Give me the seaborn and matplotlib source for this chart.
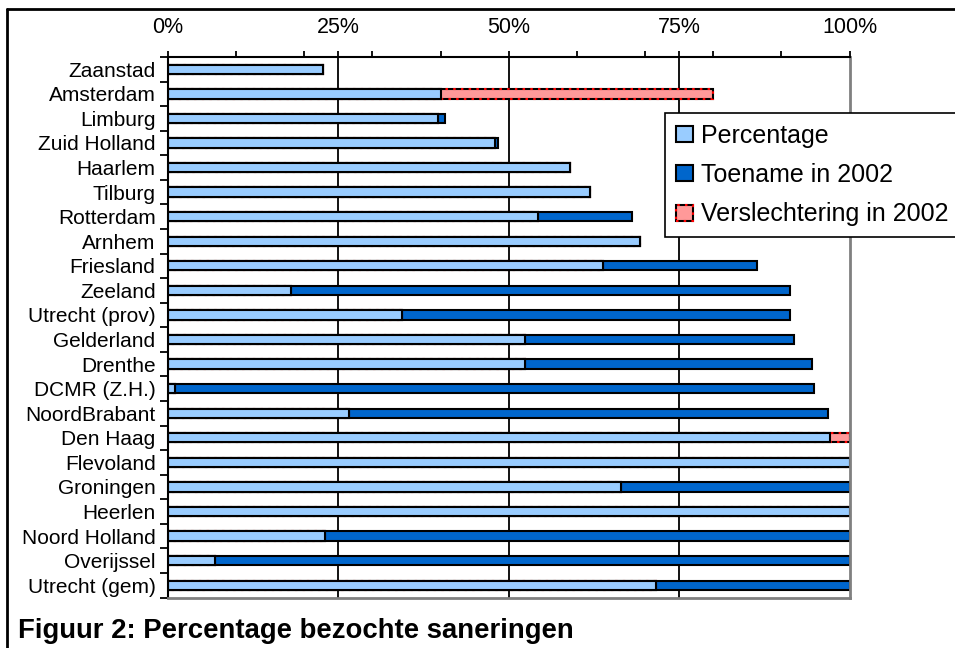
import matplotlib
matplotlib.use("Agg")
import matplotlib.pyplot as plt
import seaborn as sns
import numpy as np
import pandas as pd
from matplotlib.patches import Patch, Rectangle
from matplotlib.lines import Line2D
from matplotlib.legend_handler import HandlerTuple

categories = ["Zaanstad", "Amsterdam", "Limburg", "Zuid Holland", "Haarlem", "Tilburg",
              "Rotterdam", "Arnhem", "Friesland", "Zeeland", "Utrecht (prov)", "Gelderland",
              "Drenthe", "DCMR (Z.H.)", "NoordBrabant", "Den Haag", "Flevoland", "Groningen",
              "Heerlen", "Noord Holland", "Overijssel", "Utrecht (gem)"]
percentage = [22.8, 40.1, 39.6, 48.0, 59.0, 61.9, 54.3, 69.2, 63.9, 18.1, 34.3, 52.4,
              52.4, 1.0, 26.6, 97.1, 100.0, 66.5, 100.0, 23.1, 6.9, 71.6]
toename = [0.0, 0.0, 1.1, 0.4, 0.0, 0.0, 13.8, 0.0, 22.6, 73.2, 57.0, 39.4,
           42.1, 93.8, 70.3, 0.0, 0.0, 33.5, 0.0, 76.9, 93.1, 28.4]
verslechtering = [0.0, 39.9, 0.0, 0.0, 0.0, 0.0, 0.0, 0.0, 0.0, 0.0, 0.0, 0.0,
                  0.0, 0.0, 0.0, 2.9, 0.0, 0.0, 0.0, 0.0, 0.0, 0.0]
series_labels = ["Percentage", "Toename in 2002", "Verslechtering in 2002"]
major_ticks = [0, 25, 50, 75, 100]
major_labels = ["0%", "25%", "50%", "75%", "100%"]
minor_ticks = [10, 20, 30, 40, 60, 70, 80, 90]
grid_values = [25, 50, 75]
title = "Figuur 2: Percentage bezochte saneringen"

LIGHT = "#99CCFF"
DARK = "#0066CC"
PINK = "#FF9999"

sns.set_style("white")
plt.rcParams["font.family"] = ["Liberation Sans", "DejaVu Sans"]
plt.rcParams["text.color"] = "black"
plt.rcParams["xtick.color"] = "black"
plt.rcParams["ytick.color"] = "black"
plt.rcParams["axes.labelcolor"] = "black"

df = pd.DataFrame({"cat": categories, "pct": percentage, "toe": toename, "ver": verslechtering})
df["tot_toe"] = df["pct"] + df["toe"]
df["tot_ver"] = df["pct"] + df["ver"]

W, H = 955, 648
fig = plt.figure(figsize=(W / 100, H / 100), dpi=100)
fig.patch.set_facecolor("white")
ax = fig.add_axes([168 / W, 1 - 597.5 / H, 681.5 / W, 540.5 / H])

common = dict(orient="h", width=0.38, saturation=1, edgecolor="black",
              linewidth=1.5, ax=ax, order=categories, errorbar=None)
sns.barplot(data=df, x="tot_toe", y="cat", color=DARK, **common)
n0 = len(ax.containers)
sns.barplot(data=df, x="tot_ver", y="cat", color=PINK, **common)
for p in ax.containers[n0]:
    ax.add_patch(Rectangle(p.get_xy(), p.get_width(), p.get_height(), fill=False,
                           edgecolor="red", linestyle=(0, (1.2, 2.5)), linewidth=1.5,
                           zorder=p.get_zorder()))
sns.barplot(data=df, x="pct", y="cat", color=LIGHT, **common)

for v in grid_values:
    ax.axvline(v, color="black", linewidth=1.3, zorder=0.5)

ax.set_xlim(0, 100)
ax.set_ylim(len(categories) - 0.5, -0.5)
ax.set_xlabel("")
ax.set_ylabel("")

ax.xaxis.tick_top()
ax.set_xticks(major_ticks)
ax.set_xticklabels(major_labels)
ax.set_xticks(minor_ticks, minor=True)
ax.tick_params(axis="x", which="both", direction="out", length=4.5, width=1.3,
               color="black", top=True, bottom=False, labeltop=True, labelbottom=False,
               labelsize=15.5, pad=9, labelcolor="black")

ax.set_yticks(range(len(categories)))
ax.set_yticklabels(categories)
ax.set_yticks(np.arange(-0.5, len(categories), 1.0), minor=True)
ax.tick_params(axis="y", which="major", length=0, pad=9, labelsize=15, left=True,
               labelcolor="black")
ax.tick_params(axis="y", which="minor", length=5.5, width=1.3, direction="out",
               color="black", left=True)

for s in ["top", "left"]:
    ax.spines[s].set_color("black")
    ax.spines[s].set_linewidth(1.5)
for s in ["right", "bottom"]:
    ax.spines[s].set_color("#808080")
    ax.spines[s].set_linewidth(2)
    ax.spines[s].set_visible(True)

handles = [Patch(facecolor=LIGHT, edgecolor="black", linewidth=1.5),
           Patch(facecolor=DARK, edgecolor="black", linewidth=1.5),
           (Patch(facecolor=PINK, edgecolor="black", linewidth=1.5),
            Patch(fill=False, edgecolor="red", linestyle=(0, (1.2, 2.5)), linewidth=1.5))]
leg = fig.legend(handles, series_labels, loc="upper left",
                 bbox_to_anchor=(665 / W, 1 - 113 / H), fontsize=18,
                 frameon=True, fancybox=False, framealpha=1, edgecolor="black",
                 handlelength=0.68, handleheight=0.62, handletextpad=0.35,
                 labelspacing=0.62, borderpad=0.42, borderaxespad=0,
                 handler_map={tuple: HandlerTuple(ndivide=1)})
leg.get_frame().set_linewidth(1.2)
for t in leg.get_texts():
    t.set_color("black")

# outer frame (partly cropped like the reference)
fig.add_artist(Line2D([6.5 / W, 6.5 / W], [0, 1 - 9.3 / H], transform=fig.transFigure,
                      color="black", linewidth=2))
fig.add_artist(Line2D([6.5 / W, 1], [1 - 9.3 / H, 1 - 9.3 / H], transform=fig.transFigure,
                      color="black", linewidth=2))

fig.text(18 / W, 1 - 631 / H, title, fontsize=19.8, fontweight="bold",
         ha="left", va="center", color="black")

fig.savefig("out.png", dpi=100)
